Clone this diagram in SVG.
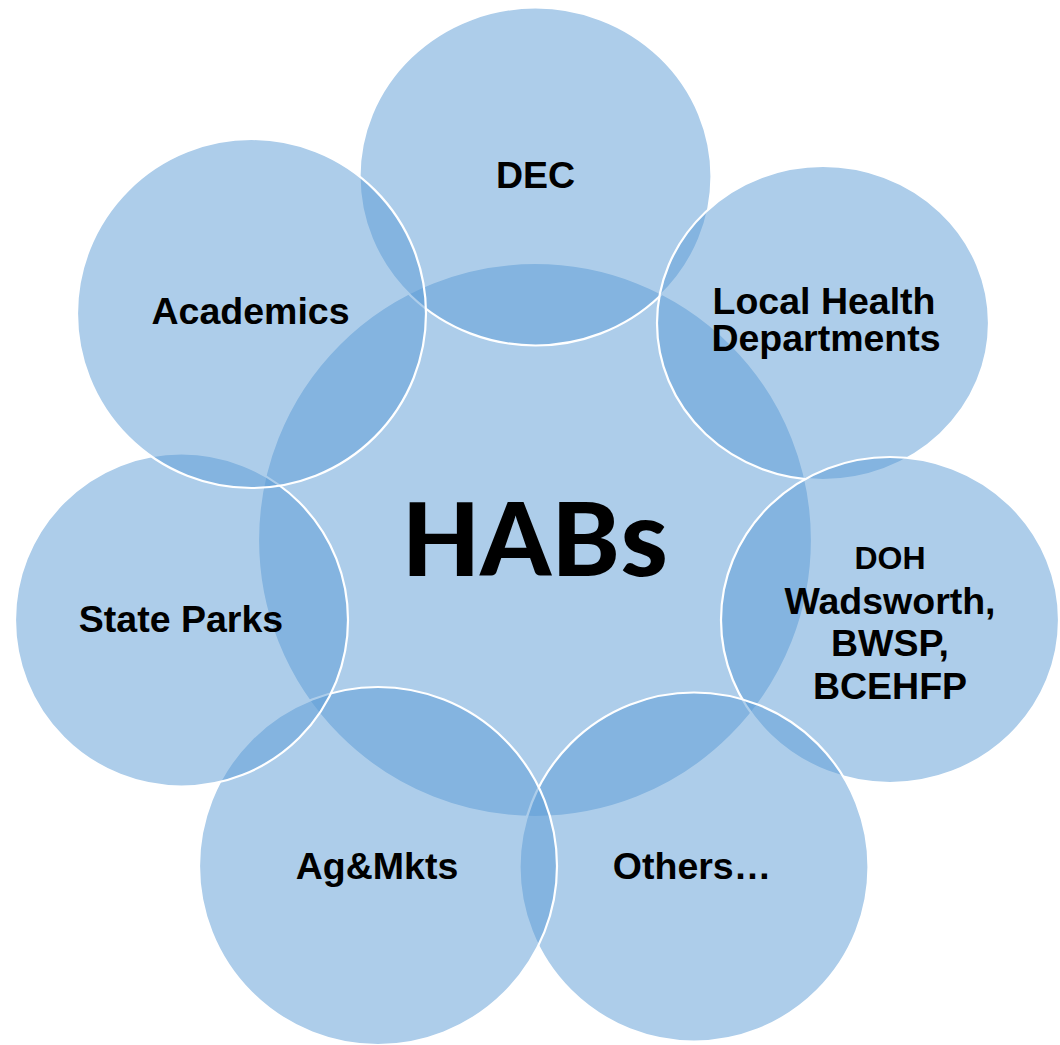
<svg xmlns="http://www.w3.org/2000/svg" width="1060" height="1045" viewBox="0 0 1060 1045">
<style>
.c{fill:#5b9bd5;fill-opacity:0.5;stroke:#ffffff;stroke-width:2.2}
.t{font-family:"Liberation Sans",Arial,sans-serif;font-weight:bold;font-size:37.5px;fill:#000;text-anchor:middle}
.h{font-family:Carlito,Calibri,Lato,"Open Sans",sans-serif;font-weight:bold;font-size:113px;fill:#000;text-anchor:middle}
</style>
<rect width="1060" height="1045" fill="#ffffff"/>
<g id="habs">
<circle class="c" cx="535" cy="540" r="277"/>
<text class="h" x="535.5" y="576" textLength="265" lengthAdjust="spacingAndGlyphs">HABs</text>
</g>
<g id="dec">
<ellipse class="c" cx="535.5" cy="176.5" rx="176" ry="169"/>
<text class="t" x="535.5" y="188">DEC</text>
</g>
<g id="lhd">
<ellipse class="c" cx="823" cy="323" rx="166" ry="157"/>
<text class="t" x="824" y="314">Local Health</text>
<text class="t" x="826" y="351">Departments</text>
</g>
<g id="doh">
<ellipse class="c" cx="890" cy="620" rx="169" ry="163"/>
<text class="t" x="890" y="569" style="font-size:32px">DOH</text>
<text class="t" x="890" y="614">Wadsworth,</text>
<text class="t" x="890" y="656">BWSP,</text>
<text class="t" x="890" y="699">BCEHFP</text>
</g>
<g id="others">
<circle class="c" cx="694" cy="867" r="174.5"/>
<text class="t" x="692" y="879">Others…</text>
</g>
<g id="agmkts">
<circle class="c" cx="378" cy="866" r="179"/>
<text class="t" x="377" y="879">Ag&amp;Mkts</text>
</g>
<g id="stateparks">
<circle class="c" cx="181.5" cy="620" r="166.5"/>
<text class="t" x="181" y="632">State Parks</text>
</g>
<g id="academics">
<circle class="c" cx="251.5" cy="313.5" r="174.5"/>
<text class="t" x="250.5" y="324">Academics</text>
</g>
<g id="connectors"/>
</svg>
